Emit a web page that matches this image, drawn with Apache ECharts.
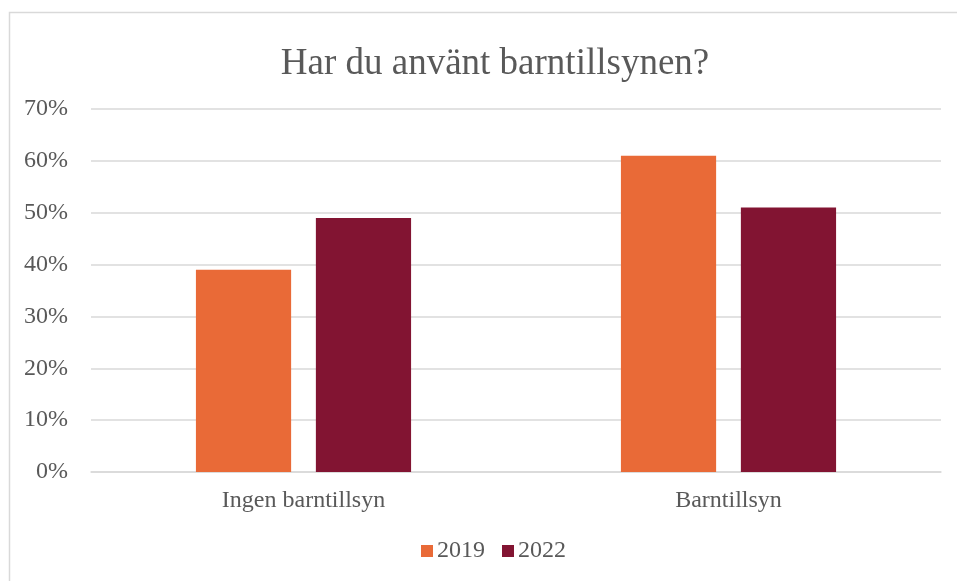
<!DOCTYPE html>
<html>
<head>
<meta charset="utf-8">
<script src="https://cdn.jsdelivr.net/npm/echarts@6/dist/echarts.min.js"></script>
<style>
html,body{margin:0;padding:0;background:#fff;}
#chart{width:957px;height:581px;}
</style>
</head>
<body>
<div id="chart"></div>
<script>
const titleText = 'Har du använt barntillsynen?';
const categories = ['Ingen barntillsyn', 'Barntillsyn'];
const seriesNames = ['2019', '2022'];
const values2019 = [39, 61];
const values2022 = [49, 51];
const yTicks = [0, 10, 20, 30, 40, 50, 60, 70];

const colors = ['#E96A37', '#821432'];
const font = '"Liberation Serif", "Times New Roman", serif';
const textColor = '#595959';

const chart = echarts.init(document.getElementById('chart'), null, {renderer: 'canvas'});
chart.setOption({
  animation: false,
  backgroundColor: '#fff',
  color: colors,
  title: {
    text: titleText,
    left: 490,
    textAlign: 'center',
    top: 41,
    textStyle: {fontFamily: font, fontSize: 37, fontWeight: 'normal', color: textColor}
  },
  graphic: [{
    type: 'rect',
    shape: {x: 9.5, y: 12.5, width: 1000, height: 1000},
    style: {fill: 'none', stroke: '#d9d9d9', lineWidth: 1.5},
    silent: true,
    z: -1
  }],
  legend: {
    data: seriesNames,
    top: 539,
    left: 421,
    itemWidth: 12,
    itemHeight: 12,
    itemGap: 17,
    icon: 'rect',
    padding: 0,
    textStyle: {fontFamily: font, fontSize: 24, color: textColor, padding: [0, 0, 0, -1]}
  },
  grid: {left: 91, right: 16, top: 109, bottom: 109, containLabel: false},
  xAxis: {
    type: 'category',
    data: categories,
    axisLine: {lineStyle: {color: '#d9d9d9', width: 1.5}},
    axisTick: {show: false},
    axisLabel: {fontFamily: font, fontSize: 24, color: textColor, margin: 17}
  },
  yAxis: {
    type: 'value',
    min: yTicks[0],
    max: yTicks[yTicks.length - 1],
    interval: 10,
    axisLine: {show: false},
    axisTick: {show: false},
    splitLine: {lineStyle: {color: '#d9d9d9', width: 1.5}},
    axisLabel: {fontFamily: font, fontSize: 24, color: textColor, margin: 23, formatter: v => v + '%'}
  },
  series: [
    {name: seriesNames[0], type: 'bar', data: values2019, barWidth: '22.4%', barGap: '26%'},
    {name: seriesNames[1], type: 'bar', data: values2022, barWidth: '22.4%', barGap: '26%'}
  ]
});
</script>
</body>
</html>
